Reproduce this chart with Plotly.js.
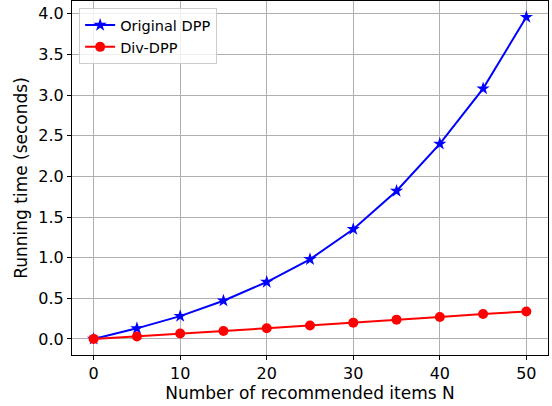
<!DOCTYPE html>
<html><head><meta charset="utf-8">
<script src="https://cdn.plot.ly/plotly-3.0.1.min.js"></script>
<style>html,body{margin:0;padding:0;background:#fff;}</style>
</head><body>
<div id="chart" style="width:552px;height:406px;"></div>
<script>
const N = [0, 5, 10, 15, 20, 25, 30, 35, 40, 45, 50];
const originalDPP = [0, 0.13, 0.28, 0.47, 0.70, 0.98, 1.35, 1.82, 2.40, 3.08, 3.96];
const divDPP = [0, 0.03, 0.066, 0.098, 0.131, 0.164, 0.20, 0.237, 0.27, 0.306, 0.337];
const seriesNames = ["Original DPP", "Div-DPP"];
const xTicks = [0, 10, 20, 30, 40, 50];
const yTicks = [0, 0.5, 1, 1.5, 2, 2.5, 3, 3.5, 4];

const tickFont = {family: "DejaVu Sans", size: 16, color: "#000"};
const titleFont = {family: "DejaVu Sans", size: 17, color: "#000"};
const traces = [
  {x: N, y: originalDPP, name: seriesNames[0], mode: "lines+markers",
   line: {color: "#0000ff", width: 2}, marker: {symbol: "star", size: 10, color: "#0000ff"}},
  {x: N, y: divDPP, name: seriesNames[1], mode: "lines+markers",
   line: {color: "#ff0000", width: 2}, marker: {symbol: "circle", size: 10, color: "#ff0000"}}
];
const axisCommon = {showline: true, mirror: true, linecolor: "#000", linewidth: 1,
  ticks: "outside", ticklen: 4, tickcolor: "#000", showgrid: true, gridcolor: "#b0b0b0",
  gridwidth: 1, zeroline: false, tickfont: tickFont};
const layout = {
  width: 552, height: 406,
  margin: {l: 72, r: 4, t: 1, b: 51},
  paper_bgcolor: "#fff", plot_bgcolor: "#fff",
  font: tickFont,
  showlegend: true,
  legend: {x: 0.015, y: 0.98, xanchor: "left", yanchor: "top",
    bgcolor: "rgba(255,255,255,0.8)", bordercolor: "#cccccc", borderwidth: 1,
    itemwidth: 30, tracegroupgap: 2,
    font: {family: "DejaVu Sans", size: 14.5, color: "#000"}},
  xaxis: Object.assign({}, axisCommon, {range: [-2.5, 52.5], tickvals: xTicks,
    title: {text: "Number of recommended items N", font: titleFont, standoff: 3}}),
  yaxis: Object.assign({}, axisCommon, {range: [-0.198, 4.158], tickvals: yTicks,
    tickformat: ".1f",
    title: {text: "Running time (seconds)", font: titleFont, standoff: 6}})
};
Plotly.newPlot("chart", traces, layout, {displayModeBar: false, staticPlot: true});
</script>
</body></html>
